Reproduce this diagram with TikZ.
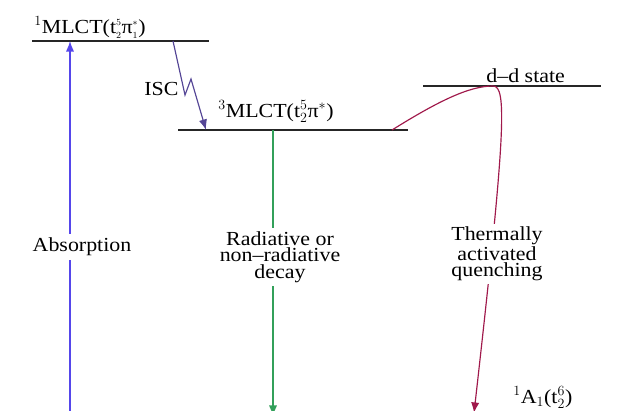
\documentclass[tikz,border=0pt]{standalone}
\usepackage{fontspec}
\setmainfont[FakeStretch=1.1]{Liberation Serif}
\usetikzlibrary{arrows.meta}

\definecolor{absblue}{RGB}{85,70,235}
\definecolor{iscpurple}{RGB}{85,70,150}
\definecolor{decgreen}{RGB}{50,160,90}
\definecolor{quenchred}{RGB}{160,25,75}

\tikzset{
  level/.style={line width=1.2pt, black!85},
  lbl/.style={font=\fontsize{17}{14}\selectfont, inner sep=1pt},
  gaplbl/.style={lbl, fill=white, align=center, inner sep=3pt},
  trans/.style={line width=1pt, -{Latex[length=9pt,width=7pt]}},
}

\begin{document}
\begin{tikzpicture}[x=0.03cm,y=-0.03cm]
  \useasboundingbox (0,0) rectangle (621,410);

  % Energy levels
  \coordinate (s1l) at (32,41);   \coordinate (s1r) at (209,41);
  \coordinate (t1l) at (178,130); \coordinate (t1r) at (408,130);
  \coordinate (ddl) at (423,86);  \coordinate (ddr) at (601,86);
  \draw[level] (s1l) -- (s1r);
  \draw[level] (t1l) -- (t1r);
  \draw[level] (ddl) -- (ddr);

  \node[lbl, anchor=base west] (s1lab) at (33,33)
    {$^1$MLCT(t$_{\scriptscriptstyle 2}^{\scriptscriptstyle 5}$π$_{\scriptscriptstyle 1}^{\scriptscriptstyle *}$)};
  \node[lbl, anchor=base west] (t1lab) at (217,117) {$^3$MLCT(t$_2^5$π$^*$)};
  \node[lbl, anchor=base west] (ddlab) at (485,82) {d–d state};
  \node[lbl, anchor=base west] (gslab) at (512,403) {$^1$A$_1$(t$_2^6$)};

  % Absorption (ground state lies below the frame)
  \coordinate (absb) at (70,440);
  \coordinate (abst) at (70,41);
  \draw[trans, absblue] (absb) -- (abst);
  \node[gaplbl] (abslab) at (82,247) {Absorption};

  % Intersystem crossing
  \coordinate (iscs) at (173,41);
  \coordinate (isce) at (206,130);
  \draw[trans, iscpurple] (iscs) -- (185,95) -- (191,79) -- (isce);
  \node[lbl, anchor=base west] (isclab) at (143,95) {ISC};

  % Decay back to the ground state
  \coordinate (decs) at (273,130);
  \coordinate (dece) at (273,416);
  \draw[trans, decgreen] (decs) -- (dece);
  \node[gaplbl] (declab) at (280,257) {Radiative or\\non–radiative\\decay};

  % Quenching via the d-d state
  \coordinate (qs) at (392,130);
  \coordinate (qtop) at (493,86);
  \coordinate (qe) at (474,413);
  \draw[trans, quenchred] (qs) .. controls (440,100) and (470,86) .. (qtop)
    .. controls (507,86) and (506,130) .. (qe);
  \node[gaplbl] (qlab) at (497,254) {Thermally\\activated\\quenching};
\end{tikzpicture}
\end{document}
